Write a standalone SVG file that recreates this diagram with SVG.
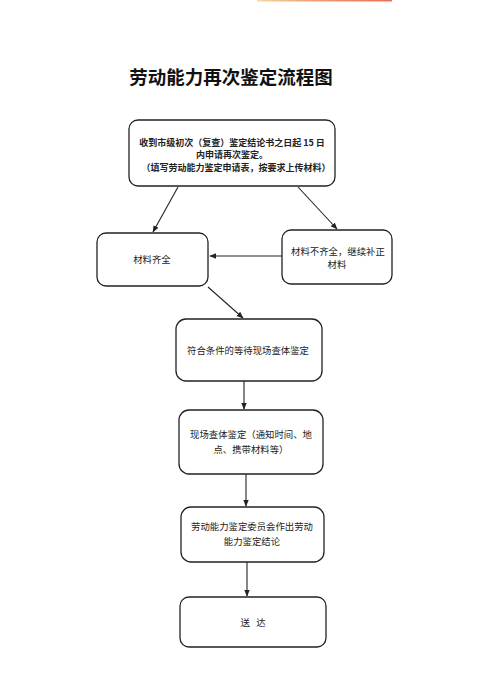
<svg xmlns="http://www.w3.org/2000/svg" width="500" height="685" viewBox="0 0 500 685">
<defs>
<style>
.box{fill:#fff;stroke:#222;stroke-width:1.3}
.t{font-family:"Noto Sans CJK SC","Liberation Sans",sans-serif;font-size:9.4px;fill:#222;text-anchor:middle}
.b{font-weight:bold;font-size:9px}
.ln{stroke:#222;stroke-width:1.1;fill:none;marker-end:url(#ah)}
</style>
<marker id="ah" viewBox="0 0 10 10" refX="9" refY="5" markerWidth="7" markerHeight="7" orient="auto" markerUnits="userSpaceOnUse">
<path d="M0,1 L10,5 L0,9 Z" fill="#222"/>
</marker>
<linearGradient id="bar" x1="0" x2="1">
<stop offset="0" stop-color="#f3d9a0"/>
<stop offset="0.4" stop-color="#f0a070"/>
<stop offset="1" stop-color="#e8705a"/>
</linearGradient>
</defs>
<rect width="500" height="685" fill="#fff"/>
<rect x="257" y="0" width="135" height="1.5" fill="url(#bar)"/>
<text x="231" y="84" font-family="'Noto Sans CJK SC','Liberation Sans',sans-serif" font-size="18.5" font-weight="bold" fill="#111" text-anchor="middle">劳动能力再次鉴定流程图</text>
<g id="connectors">
<line class="ln" x1="178" y1="187" x2="153" y2="232"/>
<line class="ln" x1="298" y1="187" x2="337" y2="229"/>
<line class="ln" x1="282" y1="256" x2="210" y2="256"/>
<line class="ln" x1="208" y1="287" x2="243" y2="318"/>
<line class="ln" x1="244" y1="381" x2="244" y2="409"/>
<line class="ln" x1="246" y1="474" x2="246" y2="506"/>
<line class="ln" x1="247" y1="562" x2="247" y2="596"/>
</g>
<g id="n1">
<rect class="box" x="129" y="120" width="206" height="66" rx="9"/>
<text class="t b" x="232" y="145.5">收到市级初次（复查）鉴定结论书之日起 15 日</text>
<text class="t b" x="232" y="158">内申请再次鉴定。</text>
<text class="t b" x="236" y="171">（填写劳动能力鉴定申请表，按要求上传材料）</text>
</g>
<g id="n2">
<rect class="box" x="97" y="233" width="111" height="53" rx="9"/>
<text class="t" x="152" y="263">材料齐全</text>
</g>
<g id="n3">
<rect class="box" x="282" y="230" width="110" height="54" rx="9"/>
<text class="t" x="338" y="255">材料不齐全，继续补正</text>
<text class="t" x="337" y="268">材料</text>
</g>
<g id="n4">
<rect class="box" x="176" y="319" width="146" height="62" rx="10"/>
<text class="t" x="248" y="354">符合条件的等待现场查体鉴定</text>
</g>
<g id="n5">
<rect class="box" x="179" y="410" width="144" height="64" rx="10"/>
<text class="t" x="251" y="438">现场查体鉴定（通知时间、地</text>
<text class="t" x="251" y="453">点、携带材料等）</text>
</g>
<g id="n6">
<rect class="box" x="181" y="507" width="143" height="55" rx="10"/>
<text class="t" x="252" y="530">劳动能力鉴定委员会作出劳动</text>
<text class="t" x="252" y="545">能力鉴定结论</text>
</g>
<g id="n7">
<rect class="box" x="180" y="597" width="146" height="50" rx="9"/>
<text class="t" x="253" y="626" xml:space="preserve">送   达</text>
</g>
</svg>
